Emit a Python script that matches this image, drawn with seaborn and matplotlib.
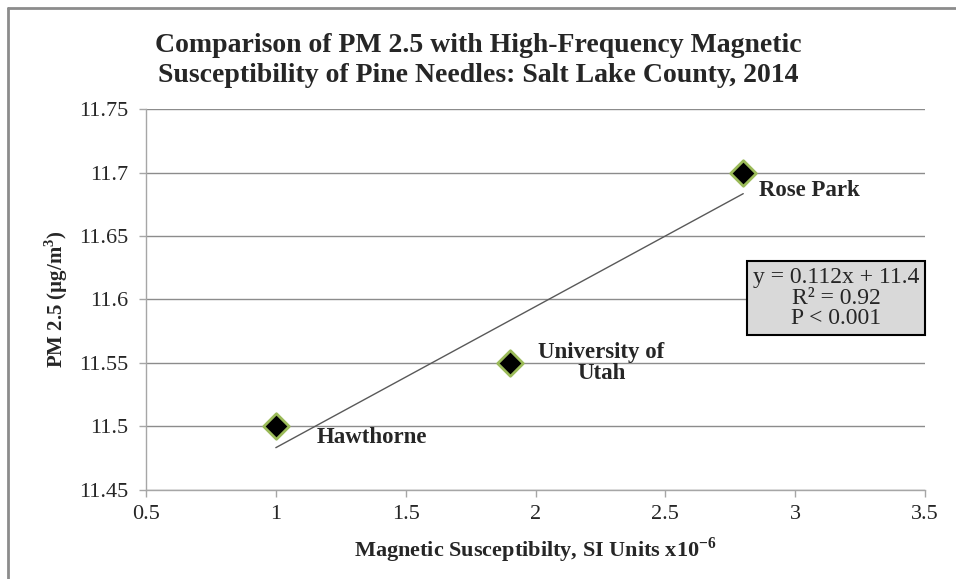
import numpy as np
import pandas as pd
import matplotlib
matplotlib.use('Agg')
import matplotlib.pyplot as plt
from matplotlib.lines import Line2D
import seaborn as sns

# veriler
sites = ["Hawthorne", "University of\nUtah", "Rose Park"]
susceptibility = [1.0, 1.9, 2.8]
pm25 = [11.5, 11.55, 11.7]
x_ticks = [0.5, 1, 1.5, 2, 2.5, 3, 3.5]
y_ticks = [11.45, 11.5, 11.55, 11.6, 11.65, 11.7, 11.75]
y_tick_labels = ["11.45", "11.5", "11.55", "11.6", "11.65", "11.7", "11.75"]
x_tick_labels = ["0.5", "1", "1.5", "2", "2.5", "3", "3.5"]
eq_text = "y = 0.112x + 11.4\nR² = 0.92\nP < 0.001"

df = pd.DataFrame({"site": sites, "ms": susceptibility, "pm": pm25})

sns.set_theme(style="white")
plt.rcParams['font.family'] = ['Liberation Serif', 'DejaVu Serif']
plt.rcParams['mathtext.fontset'] = 'custom'
plt.rcParams['mathtext.rm'] = 'Liberation Serif'
plt.rcParams['mathtext.bf'] = 'Liberation Serif:bold'

fig = plt.figure(figsize=(9.56, 5.79), dpi=100)
ax = fig.add_axes([146 / 956, 1 - 490 / 579, (925 - 146) / 956, (490 - 109) / 579])

sns.regplot(data=df, x="ms", y="pm", ax=ax, scatter=False, ci=None, truncate=True,
            line_kws={"color": "#595959", "linewidth": 1.0})
sns.scatterplot(data=df, x="ms", y="pm", ax=ax, marker="D", s=170, color="black",
                edgecolor="#9bbb59", linewidth=2.0, zorder=5, legend=False)

ax.set_xlim(0.5, 3.5)
ax.set_ylim(11.45, 11.75)
ax.set_xticks(x_ticks)
ax.set_xticklabels(x_tick_labels)
ax.set_yticks(y_ticks)
ax.set_yticklabels(y_tick_labels)
ax.tick_params(axis="both", direction="out", length=5, width=1, color="#a6a6a6",
               labelsize=16, pad=6, bottom=True, left=True)
ax.tick_params(axis="y", pad=8)
ax.yaxis.grid(True, color="#8c8c8c", linewidth=1)
ax.set_axisbelow(True)
for side in ["top", "right"]:
    ax.spines[side].set_visible(False)
for side in ["left", "bottom"]:
    ax.spines[side].set_color("#a6a6a6")
    ax.spines[side].set_linewidth(1)

ax.set_xlabel(r"Magnetic Susceptibilty, SI Units x10$^{\mathbf{-6}}$", fontsize=16,
              fontweight="bold", labelpad=8)
ax.set_ylabel(r"PM 2.5 (µg/m$^{\mathbf{3}}$)", fontsize=15, fontweight="bold", labelpad=6)

# nokta etiketleri
ax.text(2.859, 11.686, sites[2], fontsize=16.5, fontweight="bold", va="center", ha="left")
ax.text(2.253, 11.55, sites[1], fontsize=16.5, fontweight="bold", va="center", ha="center",
        linespacing=1.0)
ax.text(1.156, 11.491, sites[0], fontsize=16.5, fontweight="bold", va="center", ha="left")

# denklem kutusu
fig.text(836 / 956, 1 - 298 / 579, eq_text, fontsize=17, ha="center", va="center",
         linespacing=1.0,
         bbox=dict(boxstyle="square,pad=0.25", facecolor="#d9d9d9", edgecolor="black", linewidth=1.5))

fig.suptitle("Comparison of PM 2.5 with High-Frequency Magnetic\nSusceptibility of Pine Needles: Salt Lake County, 2014",
             fontsize=20, fontweight="bold", y=1 - 33 / 579, va="top", linespacing=1.25)

# dis cerceve
fig.add_artist(Line2D([8 / 956, 8 / 956], [0, 1 - 8 / 579], transform=fig.transFigure,
                      color="#8c8c8c", linewidth=2))
fig.add_artist(Line2D([8 / 956, 1], [1 - 8 / 579, 1 - 8 / 579], transform=fig.transFigure,
                      color="#8c8c8c", linewidth=2))

fig.savefig("out.png", dpi=100)
